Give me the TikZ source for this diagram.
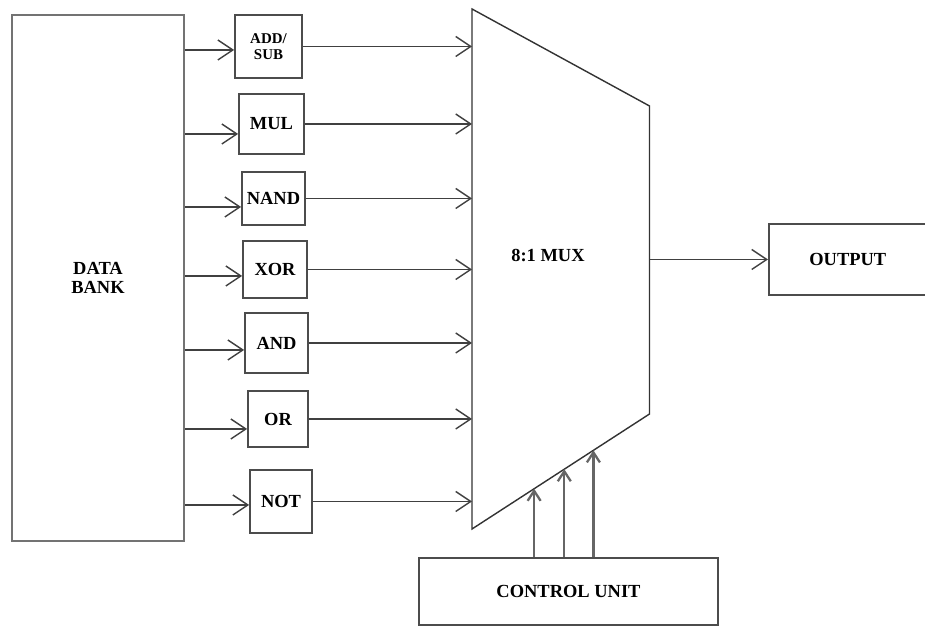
\documentclass[tikz,border=0pt]{standalone}
\usepackage{fontspec}
\setmainfont{Liberation Serif}
\usepackage{tikz}
\usetikzlibrary{arrows.meta, positioning, calc}
\tikzset{
  blk/.style      = {rectangle, draw=black!70, line width=0.9pt, fill=white,
                     align=center, inner sep=1pt,
                     font=\bfseries\fontsize{10.5}{11}\selectfont},
  bankbox/.style  = {blk, draw=black!55, line width=1.6pt},
  gatebox/.style  = {blk, line width=1pt},
  muxline/.style  = {draw=black!80, line width=0.8pt, line join=miter},
  sigarrow/.style = {-{Straight Barb[length=3mm, width=4mm]}, draw=black!75,
                     line width=0.8pt},
  selarrow/.style = {-{Straight Barb[length=2mm, width=2.6mm]}, draw=black!60,
                     line width=1.3pt},
}

\begin{document}
\begin{tikzpicture}
  \useasboundingbox (0,0) rectangle (18.5,12.54);
  % data source and the seven units
  \node[bankbox, minimum width=34.4mm, minimum height=105.2mm] (bank)
    at (1.96,6.98) {DATA\\BANK};
  \node[gatebox, minimum width=13.4mm, minimum height=12.6mm,
        font=\bfseries\fontsize{8.5}{9}\selectfont] (add) at (5.37,11.61) {ADD/\\SUB};
  \node[gatebox, minimum width=13mm, minimum height=12mm] (mul) at (5.43,10.06) {MUL};
  \node[gatebox, minimum width=12.6mm, minimum height=10.6mm] (nand) at (5.47,8.57) {NAND};
  \node[gatebox, minimum width=12.8mm, minimum height=11.4mm] (xor) at (5.50,7.15) {XOR};
  \node[gatebox, minimum width=12.6mm, minimum height=12mm] (and) at (5.53,5.68) {AND};
  \node[gatebox, minimum width=12mm, minimum height=11.2mm] (or) at (5.56,4.16) {OR};
  \node[gatebox, minimum width=12.4mm, minimum height=12.6mm] (not) at (5.62,2.51) {NOT};

  % multiplexer outline
  \coordinate (m1) at (9.44,12.36);
  \coordinate (m2) at (12.99,10.42);
  \coordinate (m3) at (12.99,4.26);
  \coordinate (m4) at (9.44,1.96);
  \draw[muxline] (m1) -- (m2) -- (m3) -- (m4) -- cycle;
  \node[font=\bfseries\fontsize{10.5}{11}\selectfont] (mux) at (10.96,7.42) {8:1 MUX};

  \node[blk, minimum width=31.6mm, minimum height=14.2mm, anchor=west] (out)
    at (15.36,7.35) {OUTPUT};
  \node[blk, minimum width=59.8mm, minimum height=13.4mm] (cu)
    at (11.37,0.71) {CONTROL UNIT};

  % bank to units, units to mux
  \foreach \g/\s in {add/-0.07, mul/-0.2, nand/-0.17, xor/-0.13,
                     and/-0.14, or/-0.2, not/-0.07} {
    \draw[sigarrow] ([yshift=\s cm]bank.east |- \g.west) -- ([yshift=\s cm]\g.west);
    \draw[sigarrow] (\g.east) -- (\g.east -| m1);
  }
  \draw[sigarrow] (out.west -| m2) -- (out.west);

  % select lines
  \foreach \t [count=\i] in {0.35, 0.52, 0.684} {
    \coordinate (sel\i) at ($(m4)!\t!(m3)$);
    \draw[selarrow] (cu.north -| sel\i) -- (sel\i);
  }
\end{tikzpicture}
\end{document}
